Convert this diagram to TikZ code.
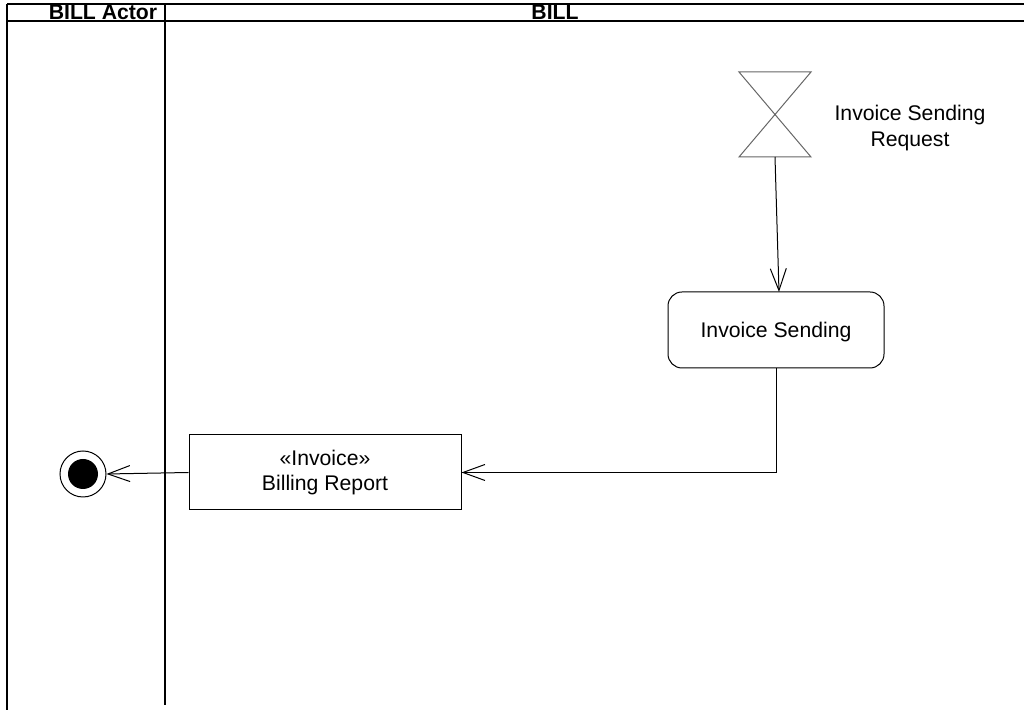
\documentclass[tikz,border=0pt]{standalone}
\usepackage{fontspec}
\setmainfont{Liberation Sans}
\usetikzlibrary{arrows.meta,positioning}

\begin{document}
\begin{tikzpicture}[x=0.5pt,y=-0.5pt,line width=0.5pt,
    >={Straight Barb[length=11pt,width=8pt,line width=0.5pt]},
    font=\fontsize{10.6}{12.6}\selectfont,
    action/.style={draw,rounded corners=7pt,minimum width=108pt,minimum height=38pt,inner sep=0pt,text depth=0pt},
    objectbox/.style={draw,minimum width=136pt,minimum height=37.5pt,inner sep=0pt,align=center},
    lane/.style={line width=0.65pt}]
  \useasboundingbox (0,0) rectangle (1024,710);
  % swimlanes
  \draw[lane] (7,4) -- (1024,4);
  \draw[lane] (7,21) -- (1024,21);
  \draw[lane] (7,4) -- (7,710);
  \draw[lane] (165,4) -- (165,705);
  \node[font=\fontsize{10.6}{12.6}\bfseries] (HA) at (103,12) {BILL Actor};
  \node[font=\fontsize{10.6}{12.6}\bfseries] (HB) at (555,12) {BILL};
  % time event
  \draw[gray!80!black] (739,72) -- (811,72) -- (739,157) -- (811,157) -- cycle;
  \coordinate (T) at (775,157);
  \node[align=center] (TL) at (910,128) {Invoice Sending\\Request};
  % nodes
  \node[action] (A) at (776,330) {Invoice Sending};
  \coordinate (AN) at (779,292);
  \node[objectbox] (B) at (325,472.5) {«Invoice»\\Billing Report};
  \node[circle,draw,minimum size=23pt,inner sep=0pt] (F) at (83,474) {};
  \node[circle,fill=black,minimum size=15pt,inner sep=0pt] at (F) {};
  % flows
  \draw[->] (T) -- (AN);
  \draw[->] (A.south) |- (B.east);
  \draw[->] (B.west) -- (F.east);
\end{tikzpicture}
\end{document}
